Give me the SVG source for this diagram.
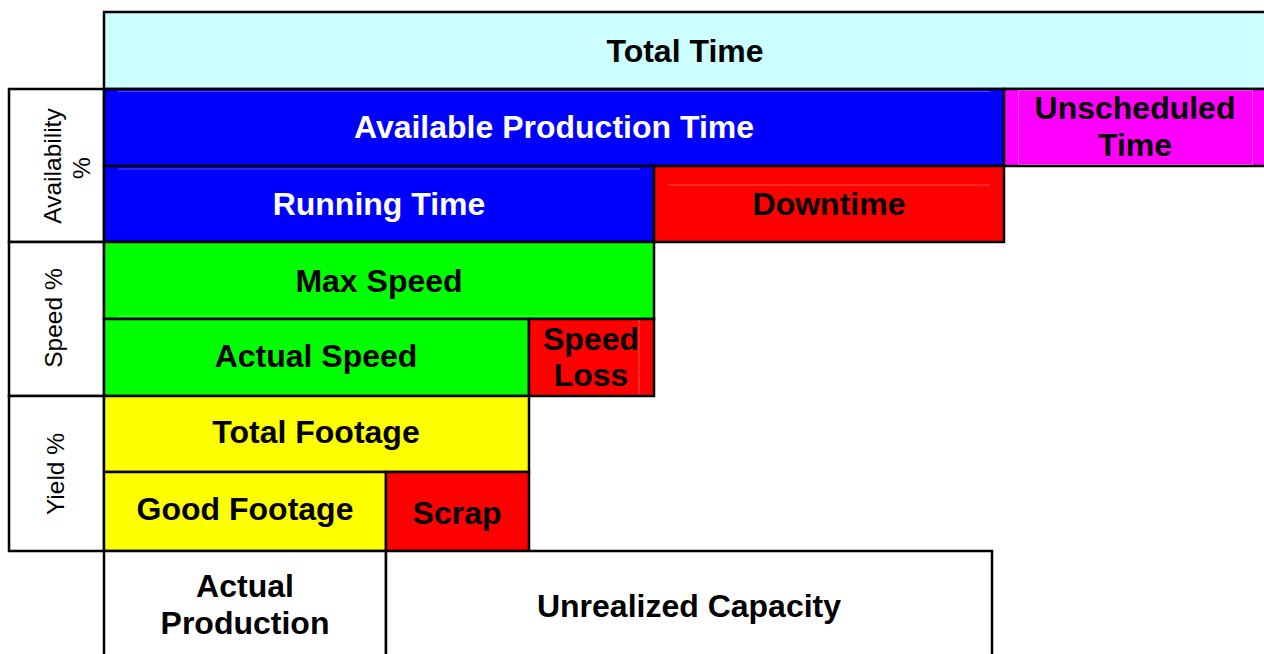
<svg xmlns="http://www.w3.org/2000/svg" width="1264" height="654" viewBox="0 0 1264 654">
  <style>
    .box { stroke: #000; stroke-width: 2.5; }
    .lbl { font-family: "Liberation Sans", Arial, sans-serif; font-weight: bold; font-size: 32px; fill: #000; text-anchor: middle; }
    .wlbl { font-family: "Liberation Sans", Arial, sans-serif; font-weight: bold; font-size: 32px; fill: #fff; text-anchor: middle; }
    .side { font-family: "Liberation Sans", Arial, sans-serif; font-size: 24.5px; fill: #000; text-anchor: middle; }
    .hint { stroke: #fff; stroke-opacity: 0.3; stroke-width: 1; fill: none; }
  </style>
  <rect width="1264" height="654" fill="#fff"/>

  <!-- side metric labels -->
  <g id="availability-label">
    <rect class="box" x="9" y="89" width="95" height="153" fill="#fff"/>
    <text class="side" transform="translate(61,166) rotate(-90)">Availability</text>
    <text class="side" transform="translate(90,168) rotate(-90)">%</text>
  </g>
  <g id="speed-label">
    <rect class="box" x="9" y="242" width="95" height="154" fill="#fff"/>
    <text class="side" transform="translate(62,318) rotate(-90)">Speed %</text>
  </g>
  <g id="yield-label">
    <rect class="box" x="9" y="396" width="95" height="155" fill="#fff"/>
    <text class="side" transform="translate(64,474) rotate(-90)">Yield %</text>
  </g>

  <!-- time breakdown -->
  <g id="total-time">
    <rect class="box" x="104" y="12" width="1170" height="77" fill="#ccffff"/>
    <line class="hint" x1="1252" y1="13" x2="1252" y2="88"/>
    <text class="lbl" x="685" y="62">Total Time</text>
  </g>
  <g id="available-production-time">
    <rect class="box" x="104" y="89" width="900" height="77" fill="#0000ff"/>
    <line class="hint" x1="118" y1="91.5" x2="990" y2="91.5"/>
    <text class="wlbl" x="554" y="138">Available Production Time</text>
  </g>
  <g id="unscheduled-time">
    <rect class="box" x="1004" y="89" width="270" height="77" fill="#ff00ff"/>
    <rect class="hint" x="1018.5" y="90.5" width="234" height="74"/>
    <text class="lbl" x="1135" y="119">Unscheduled</text>
    <text class="lbl" x="1135" y="156">Time</text>
  </g>
  <g id="running-time">
    <rect class="box" x="104" y="166" width="550" height="76" fill="#0000ff"/>
    <line class="hint" x1="118" y1="169" x2="640" y2="169"/>
    <text class="wlbl" x="379" y="215">Running Time</text>
  </g>
  <g id="downtime">
    <rect class="box" x="654" y="166" width="350" height="76" fill="#ff0000"/>
    <line class="hint" x1="668" y1="185" x2="989" y2="185"/>
    <text class="lbl" x="829" y="215">Downtime</text>
  </g>

  <!-- speed breakdown -->
  <g id="max-speed">
    <rect class="box" x="104" y="242" width="550" height="77" fill="#00ff00"/>
    <line class="hint" x1="118" y1="316" x2="640" y2="316"/>
    <text class="lbl" x="379" y="292">Max Speed</text>
  </g>
  <g id="actual-speed">
    <rect class="box" x="104" y="319" width="425" height="77" fill="#00ff00"/>
    <text class="lbl" x="316" y="367">Actual Speed</text>
  </g>
  <g id="speed-loss">
    <rect class="box" x="529" y="319" width="125" height="77" fill="#ff0000"/>
    <line class="hint" x1="639" y1="320" x2="639" y2="394"/>
    <text class="lbl" x="591" y="350">Speed</text>
    <text class="lbl" x="591" y="386">Loss</text>
  </g>

  <!-- yield breakdown -->
  <g id="total-footage">
    <rect class="box" x="104" y="396" width="425" height="76" fill="#ffff00"/>
    <text class="lbl" x="316" y="443">Total Footage</text>
  </g>
  <g id="good-footage">
    <rect class="box" x="104" y="472" width="282" height="79" fill="#ffff00"/>
    <text class="lbl" x="245" y="520">Good Footage</text>
  </g>
  <g id="scrap">
    <rect class="box" x="386" y="472" width="143" height="79" fill="#ff0000"/>
    <text class="lbl" x="457" y="524">Scrap</text>
  </g>

  <!-- output -->
  <g id="actual-production">
    <rect class="box" x="104" y="551" width="282" height="110" fill="#fff"/>
    <text class="lbl" x="245" y="597">Actual</text>
    <text class="lbl" x="245" y="634">Production</text>
  </g>
  <g id="unrealized-capacity">
    <rect class="box" x="386" y="551" width="606" height="110" fill="#fff"/>
    <text class="lbl" x="689" y="617">Unrealized Capacity</text>
  </g>

  <!-- the chart is a stacked breakdown; no connectors are drawn -->
  <g id="connectors"></g>
</svg>
